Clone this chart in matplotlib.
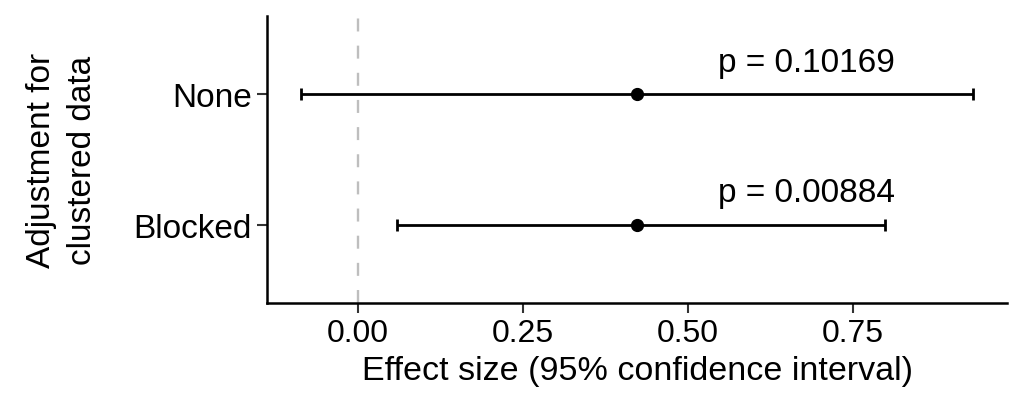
import matplotlib
matplotlib.use("Agg")
import matplotlib.pyplot as plt

categories = ["Blocked", "None"]
estimates = [0.4232, 0.4232]
lower = [0.0602, -0.0864]
upper = [0.798, 0.9323]
p_labels = ["p = 0.00884", "p = 0.10169"]
xticks = [0.00, 0.25, 0.50, 0.75]
xtick_labels = ["0.00", "0.25", "0.50", "0.75"]

plt.rcParams['font.family'] = ['Liberation Sans', 'DejaVu Sans']

fig = plt.figure(figsize=(10.24, 4.10), dpi=100)
ax = fig.add_axes([0.2607, 0.2585, 0.9834 - 0.2607, 0.9585 - 0.2585])

ypos = [1, 2]
ax.axvline(0, color='#bebebe', lw=1.7, dashes=(5.5, 6), zorder=1)
for y, e, lo, hi, p in zip(ypos, estimates, lower, upper, p_labels):
    ax.errorbar(e, y, xerr=[[e - lo], [hi - e]], fmt='o', color='black',
                ms=8.5, lw=2.0, capsize=4.2, capthick=2.0, zorder=3)
    ax.text(0.679, y + 0.245, p, ha='center', va='center', fontsize=24)

span = max(upper) - min(lower)
ax.set_xlim(min(lower) - 0.05 * span, max(upper) + 0.05 * span)
ax.set_ylim(0.4, 2.6)
ax.set_yticks(ypos)
ax.set_yticklabels(categories, fontsize=24)
ax.set_xticks(xticks)
ax.set_xticklabels(xtick_labels, fontsize=23)
ax.tick_params(axis='both', length=7, width=1.5, color='#333333', pad=4)
for s in ['top', 'right']:
    ax.spines[s].set_visible(False)
for s in ['left', 'bottom']:
    ax.spines[s].set_linewidth(1.8)
ax.set_xlabel("Effect size (95% confidence interval)", fontsize=24.5)
ax.xaxis.set_label_coords(0.5007, -0.18)
ax.set_ylabel("Adjustment for\nclustered data", fontsize=24, linespacing=1.45,
              va='center')
ax.yaxis.set_label_coords(-0.277, 0.5)

fig.savefig("out.png", dpi=100)
